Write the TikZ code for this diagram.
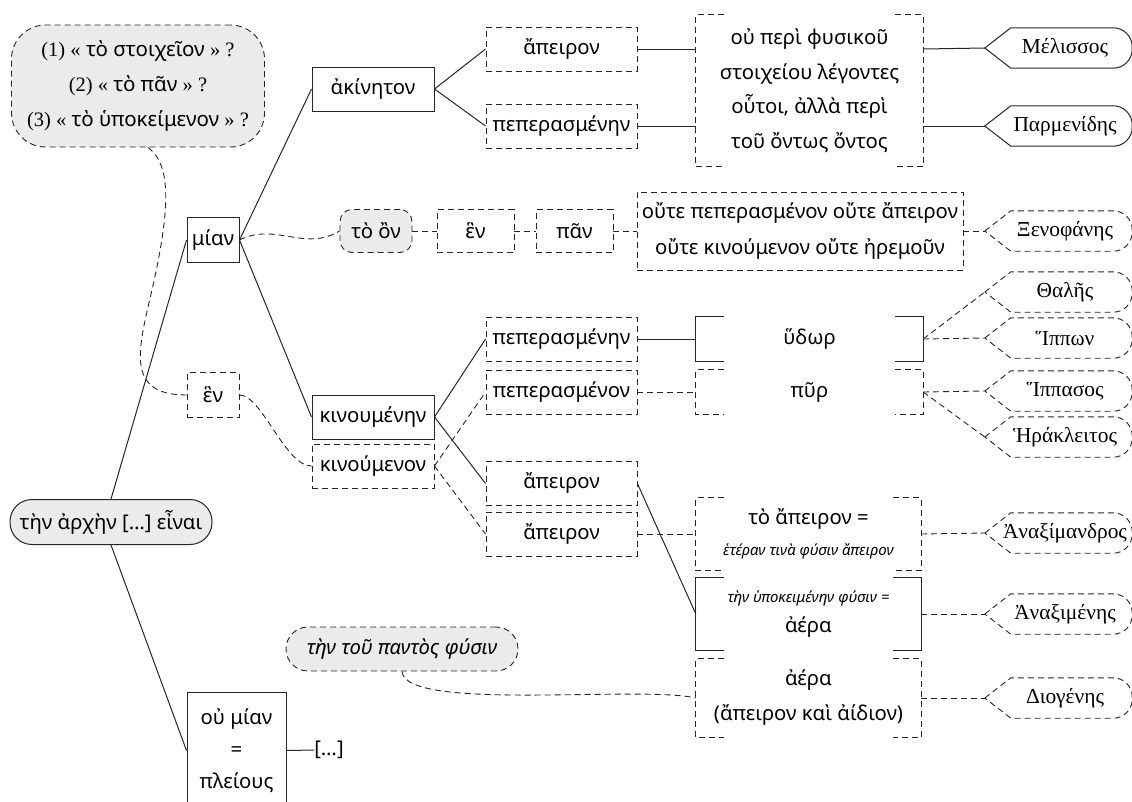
\documentclass[tikz,border=0pt]{standalone}
\usepackage{fontspec}
\setmainfont{Noto Sans}
\newfontfamily\serifgr{Liberation Serif}
\usetikzlibrary{calc}
\tikzset{
  every node/.style={inner sep=0pt, align=center, font=\fontsize{20.3}{24}\selectfont},
  lw/.style={line width=1pt, draw=black!85},
  dsh/.style={line width=0.9pt, draw=black!85, dash pattern=on 6pt off 4pt},
  sbox/.style={draw, lw, minimum height=44},
  dbox/.style={draw, dsh, minimum height=44},
  gfill/.style={fill=black!8},
  bnode/.style={minimum width=227, minimum height=44},
  namenode/.style={minimum width=160, minimum height=40, font=\serifgr\fontsize{21.4}{24}\selectfont},
}
\newcommand\bracketpath[2]{%
  \draw[#2] ($(#1.north west)+(28,0)$) -- (#1.north west) -- (#1.south west) -- ++(28,0);
  \draw[#2] ($(#1.north east)+(-28,0)$) -- (#1.north east) -- (#1.south east) -- ++(-28,0);
}
\newcommand\persona[4]{%
  \node[namenode] (#1) at (1065,#2) {#3};
  \draw[#4] (#1.west) -- ($(#1.north west)+(26,0)$) [rounded corners=19pt] -- ($(#1.north east)+(-13,0)$) -- ($(#1.south east)+(-13,0)$) [sharp corners] -- ($(#1.south west)+(26,0)$) -- cycle;
}
\begin{document}
\begin{tikzpicture}[x=1pt,y=-1pt]
\useasboundingbox (0,0) rectangle (1132,801);

% left column
\node[draw, dsh, gfill, rounded corners=34, minimum width=253, minimum height=122, font=\fontsize{20.5}{35}\selectfont] (q) at (138,86)
  {{\serifgr(1) «} τὸ στοιχεῖον {\serifgr» ?}\\{\serifgr(2) «} τὸ πᾶν {\serifgr» ?}\\{\serifgr(3) «} τὸ ὑποκείμενον {\serifgr» ?}};
\node[draw, lw, gfill, rounded corners=22, minimum width=202, minimum height=45] (root) at (111,522) {τὴν ἀρχὴν […] εἶναι};
\node[sbox, minimum width=52, minimum height=45] (mian) at (213,240) {μίαν};
\node[dbox, minimum width=52, minimum height=45] (en1) at (213,395) {ἓν};
\node[draw, lw, minimum width=99, minimum height=116, anchor=north, font=\fontsize{20.3}{32}\selectfont] (oumian) at (236.5,692) {οὐ μίαν\\=\\πλείους};
\node (etc) at (329,750) {[…]};

% second column
\node[sbox, minimum width=122] (akin) at (373,89) {ἀκίνητον};
\node[sbox, minimum width=122] (kinoumenen) at (373,417) {κινουμένην};
\node[dbox, minimum width=122] (kinoumenon) at (373,466) {κινούμενον};

% third column
\node[dbox, minimum width=151] (apA) at (561.5,49) {ἄπειρον};
\node[dbox, minimum width=151] (perA) at (561.5,126) {πεπερασμένην};
\node[dbox, minimum width=151] (perB) at (561.5,339) {πεπερασμένην};
\node[dbox, minimum width=151] (perC) at (561.5,392) {πεπερασμένον};
\node[dbox, minimum width=151] (apB) at (561.5,483.5) {ἄπειρον};
\node[dbox, minimum width=151] (apC) at (561.5,534) {ἄπειρον};

% row of Xenophanes
\node[draw, dsh, gfill, rounded corners=12, minimum width=72, minimum height=43] (toon) at (376,231) {τὸ ὂν};
\node[dbox, minimum width=77, minimum height=43] (en2) at (475.5,231) {ἓν};
\node[dbox, minimum width=77, minimum height=43] (pan) at (574.5,231) {πᾶν};
\node[dbox, minimum width=326, minimum height=78, font=\fontsize{20.3}{36}\selectfont] (oute) at (800,231) {οὔτε πεπερασμένον οὔτε ἄπειρον\\οὔτε κινούμενον οὔτε ἠρεμοῦν};

% bracket boxes
\node[bnode, minimum height=151, font=\fontsize{20.3}{34.5}\selectfont] (ou) at (809.5,90.5) {οὐ περὶ φυσικοῦ\\στοιχείου λέγοντες\\οὗτοι, ἀλλὰ περὶ\\τοῦ ὄντως ὄντος};
\bracketpath{ou}{dsh}
\node[bnode] (hydor) at (809.5,339) {ὕδωρ};
\bracketpath{hydor}{lw}
\node[bnode] (pyr) at (809.5,392) {πῦρ};
\bracketpath{pyr}{dsh}
\node[bnode, minimum width=225, minimum height=72] (toap) at (808.5,534) {τὸ ἄπειρον =\\[7pt]{\itshape\fontsize{15}{17}\selectfont ἑτέραν τινὰ φύσιν ἄπειρον}};
\bracketpath{toap}{dsh}
\node[bnode, minimum width=225, minimum height=72] (aeraA) at (808.5,614) {{\itshape\fontsize{15}{17}\selectfont τὴν ὑποκειμένην φύσιν =}\\[6pt]ἀέρα};
\bracketpath{aeraA}{lw}
\node[bnode, minimum width=225, minimum height=78, font=\fontsize{20.3}{35}\selectfont] (aeraB) at (808.5,698) {ἀέρα\\(ἄπειρον καὶ ἀίδιον)};
\bracketpath{aeraB}{dsh}

\node[draw, dsh, gfill, rounded corners=22, minimum width=232, minimum height=44, font=\itshape\fontsize{20.3}{24}\selectfont] (pantos) at (402,649) {τὴν τοῦ παντὸς φύσιν};

% names
\persona{mel}{48}{Μέλισσος}{lw}
\persona{parm}{126}{Παρμενίδης}{lw}
\persona{xen}{231}{Ξενοφάνης}{dsh}
\persona{thal}{292}{Θαλῆς}{dsh}
\persona{hippon}{338}{Ἵππων}{dsh}
\persona{hippas}{391}{Ἵππασος}{dsh}
\persona{her}{437}{Ἡράκλειτος}{dsh}
\persona{anaxd}{533}{Ἀναξίμανδρος}{dsh}
\persona{anaxm}{614}{Ἀναξιμένης}{dsh}
\persona{diog}{698}{Διογένης}{dsh}

% solid connectors
\draw[lw] (root.north) -- (mian.west);
\draw[lw] (root.south) -- (oumian.west);
\draw[lw] (oumian.east) -- (etc.west);
\draw[lw] (mian.east) -- (akin.west);
\draw[lw] (mian.east) -- (kinoumenen.west);
\draw[lw] (akin.east) -- (apA.west);
\draw[lw] (akin.east) -- (perA.west);
\draw[lw] (apA.east) -- (apA.east -| ou.west);
\draw[lw] (perA.east) -- (perA.east -| ou.west);
\draw[lw] (apA.east -| ou.east) -- (mel.west);
\draw[lw] (perA.east -| ou.east) -- (parm.west);
\draw[lw] (kinoumenen.east) -- (perB.west);
\draw[lw] (kinoumenen.east) -- (apB.west);
\draw[lw] (perB.east) -- (hydor.west);
\draw[lw] (apB.east) -- (aeraA.west);

% dashed connectors
\draw[dsh] (mian.east) .. controls (275,222) and (305,252) .. (toon.west);
\draw[dsh] (toon.east) -- (en2.west);
\draw[dsh] (en2.east) -- (pan.west);
\draw[dsh] (pan.east) -- (oute.west);
\draw[dsh] (oute.east) -- (xen.west);
\draw[dsh] ($(q.south)+(10,0)$) .. controls (172,165) and (170,210) .. (152,290) .. controls (138,350) and (125,395) .. (en1.west);
\draw[dsh] (en1.east) .. controls (262,395) and (285,466) .. (kinoumenon.west);
\draw[dsh] (kinoumenon.east) -- (perC.west);
\draw[dsh] (kinoumenon.east) -- (apC.west);
\draw[dsh] (perC.east) -- (pyr.west);
\draw[dsh] (apC.east) -- (toap.west);
\draw[dsh] (hydor.east) -- (thal.west);
\draw[dsh] (hydor.east) -- (hippon.west);
\draw[dsh] (pyr.east) -- (hippas.west);
\draw[dsh] (pyr.east) -- (her.west);
\draw[dsh] (toap.east) -- (anaxd.west);
\draw[dsh] (aeraA.east) -- (anaxm.west);
\draw[dsh] (aeraB.east) -- (diog.west);
\draw[dsh] (pantos.south) .. controls (405,712) and (640,685) .. (aeraB.west);
\end{tikzpicture}
\end{document}
